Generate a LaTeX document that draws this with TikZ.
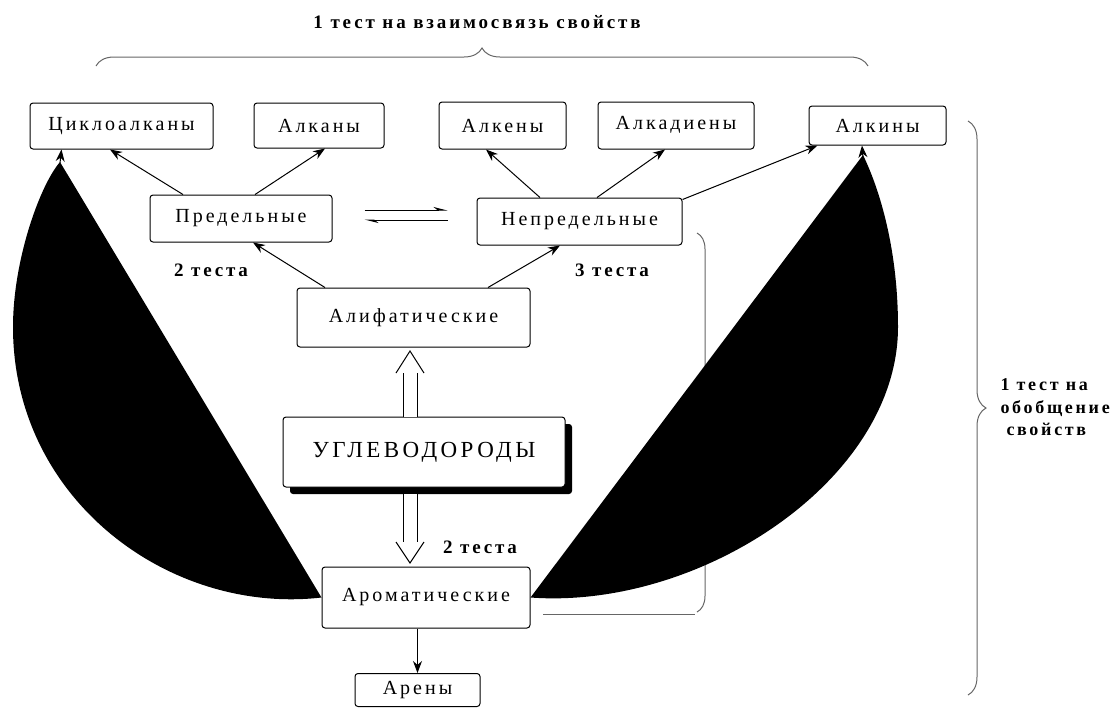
\documentclass[tikz,border=0pt]{standalone}
\usepackage{fontspec}
\setmainfont{Liberation Serif}[LetterSpace=15]
\usetikzlibrary{arrows.meta,decorations.pathreplacing,shadows}

\begin{document}
\begin{tikzpicture}[x=0.5pt,y=-0.5pt,line width=0.5pt,
  box/.style={draw,rounded corners=1.5pt,inner sep=0pt,fill=white,
    font=\fontsize{10}{12}\selectfont},
  lbl/.style={font=\fontsize{9.5}{11.25}\selectfont\bfseries},
  arr/.style={-{Stealth[length=6pt,width=4.5pt]}},
  harp/.style={-{Stealth[length=6pt,width=3pt,left]}},
  brc/.style={draw=black!60,decorate,decoration={brace,amplitude=#1}},
  hollow/.style={double distance=6.5pt}]
  \useasboundingbox (0,0) rectangle (1120,709);

  % braces
  \draw[brc=9pt] (96,66) -- (868,66);
  \draw[brc=9pt] (968,121) -- (968,695);
  \draw[brc=8pt] (697,233) -- (697,612);
  \draw[black!60] (543,614) -- (695,614);

  % top row
  \node[box,minimum width=91.5pt,minimum height=23pt] (cyclo) at (121.5,126) {Циклоалканы};
  \node[box,minimum width=65pt,minimum height=22.5pt] (alkan) at (319,125.5) {Алканы};
  \node[box,minimum width=63.5pt,minimum height=23.5pt] (alken) at (502.5,125.5) {Алкены};
  \node[box,minimum width=78pt,minimum height=23.5pt,text depth=3pt] (alkadien) at (676,125.5) {Алкадиены};
  \node[box,minimum width=68.5pt,minimum height=19.5pt] (alkin) at (877.5,125.5) {Алкины};

  % middle
  \node[box,minimum width=91pt,minimum height=23.5pt] (pred) at (241,218.5) {Предельные};
  \node[box,minimum width=102.5pt,minimum height=23.5pt] (nepred) at (579.5,221.5) {Непредельные};
  \node[box,minimum width=116.5pt,minimum height=29.5pt] (alif) at (413.5,317.5) {Алифатические};
  \node[box,minimum width=141pt,minimum height=35pt,font=\fontsize{11.5}{13}\selectfont,
    drop shadow={fill=black,opacity=1,shadow xshift=3.5pt,shadow yshift=-3.5pt}]
    (ugl) at (424,452) {УГЛЕВОДОРОДЫ};
  \node[box,minimum width=104pt,minimum height=30.5pt] (arom) at (426,597.5) {Ароматические};
  \node[box,minimum width=62.5pt,minimum height=16.5pt] (aren) at (417.5,690) {Арены};

  % labels
  \node[lbl] (tvz) at (477,22) {1 тест на взаимосвязь свойств};
  \node[lbl] (tpred) at (211,270) {2 теста};
  \node[lbl] (tnepred) at (612,270) {3 теста};
  \node[lbl] (tarom) at (480,547) {2 теста};
  \node[lbl,font=\fontsize{9}{11.25}\selectfont\bfseries,align=left,anchor=west,inner sep=0pt]
    (tob) at (1000,407.5) {1 тест на\\обобщение\\\hspace{3pt}свойств};

  % arrows
  \draw[arr] ([xshift=-29pt]pred.north) -- ([xshift=-5.75pt]cyclo.south);
  \draw[arr] ([xshift=7pt]pred.north) -- ([xshift=3pt]alkan.south);
  \draw[arr] ([xshift=-19.75pt]nepred.north) -- ([xshift=-8.25pt]alken.south);
  \draw[arr] ([xshift=8.75pt]nepred.north) -- ([xshift=-5.5pt]alkadien.south);
  \draw[arr] ([yshift=-1pt]nepred.north east) -- ([xshift=4.5pt]alkin.south west);
  \draw[arr] ([xshift=-44.25pt]alif.north) -- ([xshift=6pt]pred.south);
  \draw[arr] ([xshift=37.25pt]alif.north) -- ([xshift=-9.75pt]nepred.south);
  \draw[arr] (aren.north |- arom.south) -- (aren.north);
  \draw[harp,shorten <=16pt,shorten >=14.5pt] ([yshift=4.25pt]pred.east) -- ([yshift=4.25pt]pred.east -| nepred.west);
  \draw[harp,shorten <=14.5pt,shorten >=16pt] ([yshift=-0.75pt]pred.east -| nepred.west) -- ([yshift=-0.75pt]pred.east);

  % hollow arrows
  \draw[hollow] (410,417) -- (410,373);
  \draw (396,373) -- (410,351) -- (424,373);
  \draw[hollow] (410,494) -- (410,542);
  \draw (396,542) -- (410,563) -- (424,542);

  % black arcs
  \fill (60,162) .. controls (40,185) and (13,260) .. (13,327)
    .. controls (13,500) and (170,615) .. (arom.west) -- cycle;
  \draw[arr] (60,163) -- ([xshift=16pt]cyclo.south west);
  \fill (arom.east) .. controls (700,610) and (898,480) .. (898,327)
    .. controls (898,250) and (880,190) .. (863,155) -- cycle;
  \draw[arr] (863,158) -- ([xshift=-7.75pt]alkin.south);
\end{tikzpicture}
\end{document}
